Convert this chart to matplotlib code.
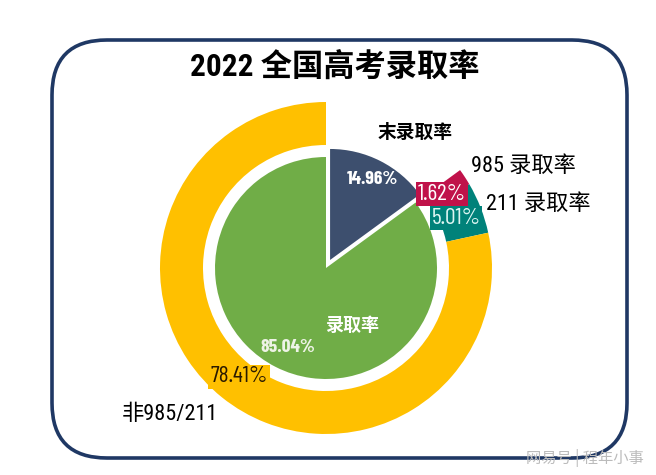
import matplotlib
matplotlib.use("Agg")
import matplotlib.pyplot as plt
from matplotlib.patches import FancyBboxPatch

# ---- data ----
inner_labels = ["末录取率", "录取率"]
inner_values = [14.96, 85.04]
outer_labels = ["(gap)", "985 录取率", "211 录取率", "非985/211"]
outer_values = [14.96, 1.62, 5.01, 78.41]
title = "2022 全国高考录取率"

# ---- style ----
NAVY = "#3D4F6E"
GREEN = "#70AD47"
YELLOW = "#FFC000"
CRIMSON = "#C0124A"
TEAL = "#00827A"
FRAME = "#1F3864"

CJK = ["Noto Sans CJK SC", "DejaVu Sans"]
NARROW = ["Roboto Condensed", "Noto Sans CJK SC", "DejaVu Sans"]
PCT = ["Barlow Condensed", "Roboto Condensed", "DejaVu Sans"]

W, H = 656, 475
fig = plt.figure(figsize=(W / 100, H / 100), dpi=100)
ax = fig.add_axes([0, 0, 1, 1])

def Y(y):
    return H - y

cx, cy = 326, Y(268)

# outer ring
ax.pie(outer_values, radius=166, center=(cx, cy), startangle=90,
       counterclock=False, colors=["none", CRIMSON, TEAL, YELLOW],
       wedgeprops=dict(width=43, linewidth=0), frame=True)
# inner pie
ax.pie(inner_values, radius=111, center=(cx, cy), startangle=90,
       counterclock=False, colors=[NAVY, GREEN], explode=[9, 0],
       wedgeprops=dict(linewidth=0), frame=True)

ax.set_xlim(0, W)
ax.set_ylim(0, H)
ax.set_aspect("equal")
ax.axis("off")

# frame
frame = FancyBboxPatch((52, Y(458)), 575, 418,
                       boxstyle="round,pad=0,rounding_size=55",
                       linewidth=2.6, edgecolor=FRAME, facecolor="none")
ax.add_patch(frame)

# title
ax.text(335, Y(67), title, fontsize=22.5, fontweight="bold",
        family=["Roboto Condensed", "Noto Sans CJK SC", "DejaVu Sans"],
        ha="center", va="center", color="black")

# inner labels
ax.text(372, Y(179), f"{inner_values[0]:.2f}%", fontsize=14, fontweight="bold",
        family=PCT, color="white", ha="center", va="center")
ax.text(288, Y(348), f"{inner_values[1]:.2f}%", fontsize=14, fontweight="bold",
        family=PCT, color="#EEF3E6", ha="center", va="center")
ax.text(352, Y(325), inner_labels[1], fontsize=13, fontweight="bold",
        family=CJK, color="white", ha="center", va="center")
ax.text(415, Y(132), inner_labels[0], fontsize=13.5, fontweight="bold",
        family=CJK, color="black", ha="center", va="center")

# outer labels with coloured boxes
ax.text(442, Y(194), f"{outer_values[1]:.2f}%", fontsize=17,
        family=PCT, color="white", ha="center", va="center",
        bbox=dict(boxstyle="square,pad=0.08", fc=CRIMSON, ec="none"))
ax.text(456, Y(218), f"{outer_values[2]:.2f}%", fontsize=17,
        family=PCT, color="#DDF5F2", ha="center", va="center",
        bbox=dict(boxstyle="square,pad=0.08", fc=TEAL, ec="none"))
ax.text(239, Y(377), f"{outer_values[3]:.2f}%", fontsize=17,
        family=PCT, color="#2A1A00", ha="center", va="center",
        bbox=dict(boxstyle="square,pad=0.08", fc=YELLOW, ec="none"))

ax.text(471, Y(166), outer_labels[1], fontsize=16, family=NARROW,
        color="black", ha="left", va="center")
ax.text(486, Y(204), outer_labels[2], fontsize=16, family=NARROW,
        color="black", ha="left", va="center")
ax.text(122, Y(415), outer_labels[3], fontsize=16, family=NARROW,
        color="black", ha="left", va="center")

# watermark
ax.text(585, Y(458), "网易号 | 程年小事", fontsize=11, family=CJK,
        color="#BBBBBB", ha="center", va="center")

fig.savefig("out.png", dpi=100, facecolor="white")
